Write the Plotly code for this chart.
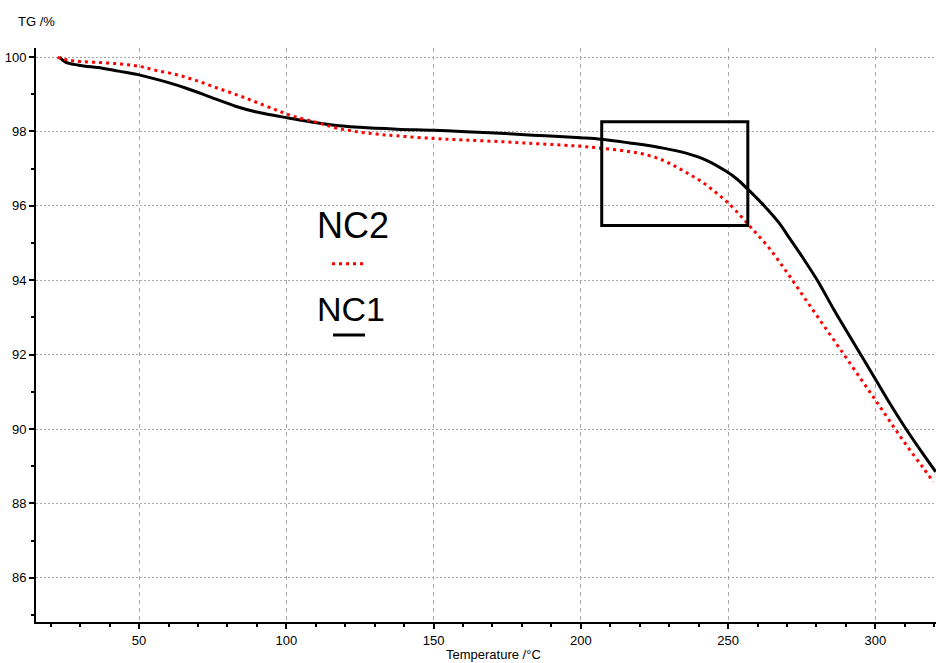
import plotly.graph_objects as go

# ---- data ----
nc1_temp = [23, 25, 29.5, 37.5, 43, 50, 60, 66, 74, 83, 90, 100, 115, 125, 137.5, 150,
            161, 177, 188, 200, 207, 216.5, 228, 236, 242.5, 249.5, 253, 256.5, 262,
            267.5, 270.5, 275.5, 280.6, 285.7, 291.4, 300.2, 305, 310.6, 316.2, 320.5]
nc1_tg = [100.0, 99.86, 99.78, 99.70, 99.62, 99.52, 99.31, 99.16, 98.93, 98.67, 98.52,
          98.37, 98.18, 98.11, 98.06, 98.03, 97.99, 97.93, 97.88, 97.83, 97.79, 97.69,
          97.55, 97.41, 97.23, 96.92, 96.72, 96.46, 96.02, 95.52, 95.17, 94.59, 93.96,
          93.24, 92.48, 91.32, 90.68, 89.98, 89.33, 88.85]

nc2_temp = [22.3, 25.7, 30, 37, 44, 50, 55.7, 62.5, 69.3, 76, 83, 89.6, 96.4, 100, 103.5,
            110, 117, 124, 130.5, 137.5, 150, 160, 171.5, 182.5, 194, 200, 205.5, 215.5,
            222.3, 228, 232.5, 237, 241, 245.5, 249, 252.5, 257.4, 263.6, 269.8, 276,
            282.3, 289.1, 295.3, 300.2, 305, 310.6, 316.2, 319.7]
nc2_tg = [99.99, 99.92, 99.88, 99.85, 99.81, 99.75, 99.64, 99.53, 99.37, 99.18, 98.99,
          98.79, 98.58, 98.47, 98.38, 98.25, 98.09, 97.99, 97.93, 97.88, 97.81, 97.77,
          97.73, 97.68, 97.63, 97.60, 97.56, 97.47, 97.37, 97.22, 97.04, 96.84, 96.65,
          96.38, 96.15, 95.88, 95.45, 94.90, 94.23, 93.52, 92.80, 92.03, 91.32, 90.76,
          90.20, 89.56, 88.96, 88.58]

series_names = ["NC2", "NC1"]
x_title = "Temperature /°C"
y_title = "TG /%"
zoom_box = dict(x0=207.1, x1=256.7, y0=95.47, y1=98.26)

FONT = "Liberation Sans Narrow, Arial Narrow, Liberation Sans, Arial, sans-serif"

fig = go.Figure()
fig.add_trace(go.Scatter(x=nc1_temp, y=nc1_tg, mode="lines", name=series_names[1],
                         line=dict(color="black", width=3, shape="spline", smoothing=1.0)))
fig.add_trace(go.Scatter(x=nc2_temp, y=nc2_tg, mode="lines", name=series_names[0],
                         line=dict(color="#ff0000", width=3, dash="3px,4px",
                                   shape="spline", smoothing=1.0)))

L, T, W, H = 36, 48, 900, 574


def px(xp):
    return (xp - L) / W


def py(yp):
    return (T + H - yp) / H


shapes = [
    # white patches behind legend text
    dict(type="rect", xref="paper", yref="paper", x0=px(270), x1=px(438), y0=py(255), y1=py(192),
         fillcolor="white", line=dict(width=0), layer="between"),
    dict(type="rect", xref="paper", yref="paper", x0=px(270), x1=px(438), y0=py(330), y1=py(285),
         fillcolor="white", line=dict(width=0), layer="between"),
    # legend samples
    dict(type="line", xref="paper", yref="paper", x0=px(332), x1=px(366), y0=py(263.7), y1=py(263.7),
         line=dict(color="#ff0000", width=3, dash="3px,4px"), layer="above"),
    dict(type="line", xref="paper", yref="paper", x0=px(333), x1=px(365), y0=py(335), y1=py(335),
         line=dict(color="black", width=3), layer="above"),
    # zoom box
    dict(type="rect", xref="x", yref="y", line=dict(color="black", width=3),
         fillcolor="rgba(0,0,0,0)", layer="above", **zoom_box),
]

annotations = [
    dict(text=series_names[0], xref="paper", yref="paper", x=px(353), y=py(225.5),
         xanchor="center", yanchor="middle", showarrow=False,
         font=dict(family="Liberation Sans, Arial, sans-serif", size=36, color="black")),
    dict(text=series_names[1], xref="paper", yref="paper", x=px(351), y=py(309),
         xanchor="center", yanchor="middle", showarrow=False,
         font=dict(family="Liberation Sans, Arial, sans-serif", size=34, color="black")),
    dict(text=y_title, xref="paper", yref="paper", x=px(36), y=py(21.5),
         xanchor="center", yanchor="middle", showarrow=False,
         font=dict(family=FONT, size=13, color="black")),
    dict(text=x_title, xref="paper", yref="paper", x=px(493.5), y=py(654),
         xanchor="center", yanchor="middle", showarrow=False,
         font=dict(family=FONT, size=13, color="black")),
]

fig.update_layout(
    width=936, height=663,
    margin=dict(l=L, r=0, t=T, b=663 - T - H, pad=0),
    paper_bgcolor="white", plot_bgcolor="white",
    showlegend=False,
    shapes=shapes, annotations=annotations,
    font=dict(family=FONT, size=13, color="black"),
)
fig.update_xaxes(range=[15, 15 + W / 2.945], tick0=0, dtick=50, ticks="outside", ticklen=5,
                 tickwidth=1.5, tickcolor="black",
                 showline=True, linecolor="black", linewidth=2,
                 showgrid=True, gridcolor="#a8a8a8", gridwidth=1, griddash="4px,4px",
                 zeroline=False,
                 minor=dict(dtick=10, ticks="outside", ticklen=3, tickcolor="black", showgrid=False),
                 tickfont=dict(family=FONT, size=13, color="black"))
fig.update_yaxes(range=[100 - (T + H - 57) / 37.2, 100 + (57 - T) / 37.2], tick0=86, dtick=2,
                 ticks="outside", ticklen=5, tickwidth=1.5, tickcolor="black",
                 showline=True, linecolor="black", linewidth=2,
                 showgrid=True, gridcolor="#a8a8a8", gridwidth=1, griddash="2px,2px",
                 zeroline=False,
                 minor=dict(dtick=1, ticks="outside", ticklen=3, tickcolor="black", showgrid=False),
                 tickfont=dict(family=FONT, size=13, color="black"))

fig.write_html("out.html")
